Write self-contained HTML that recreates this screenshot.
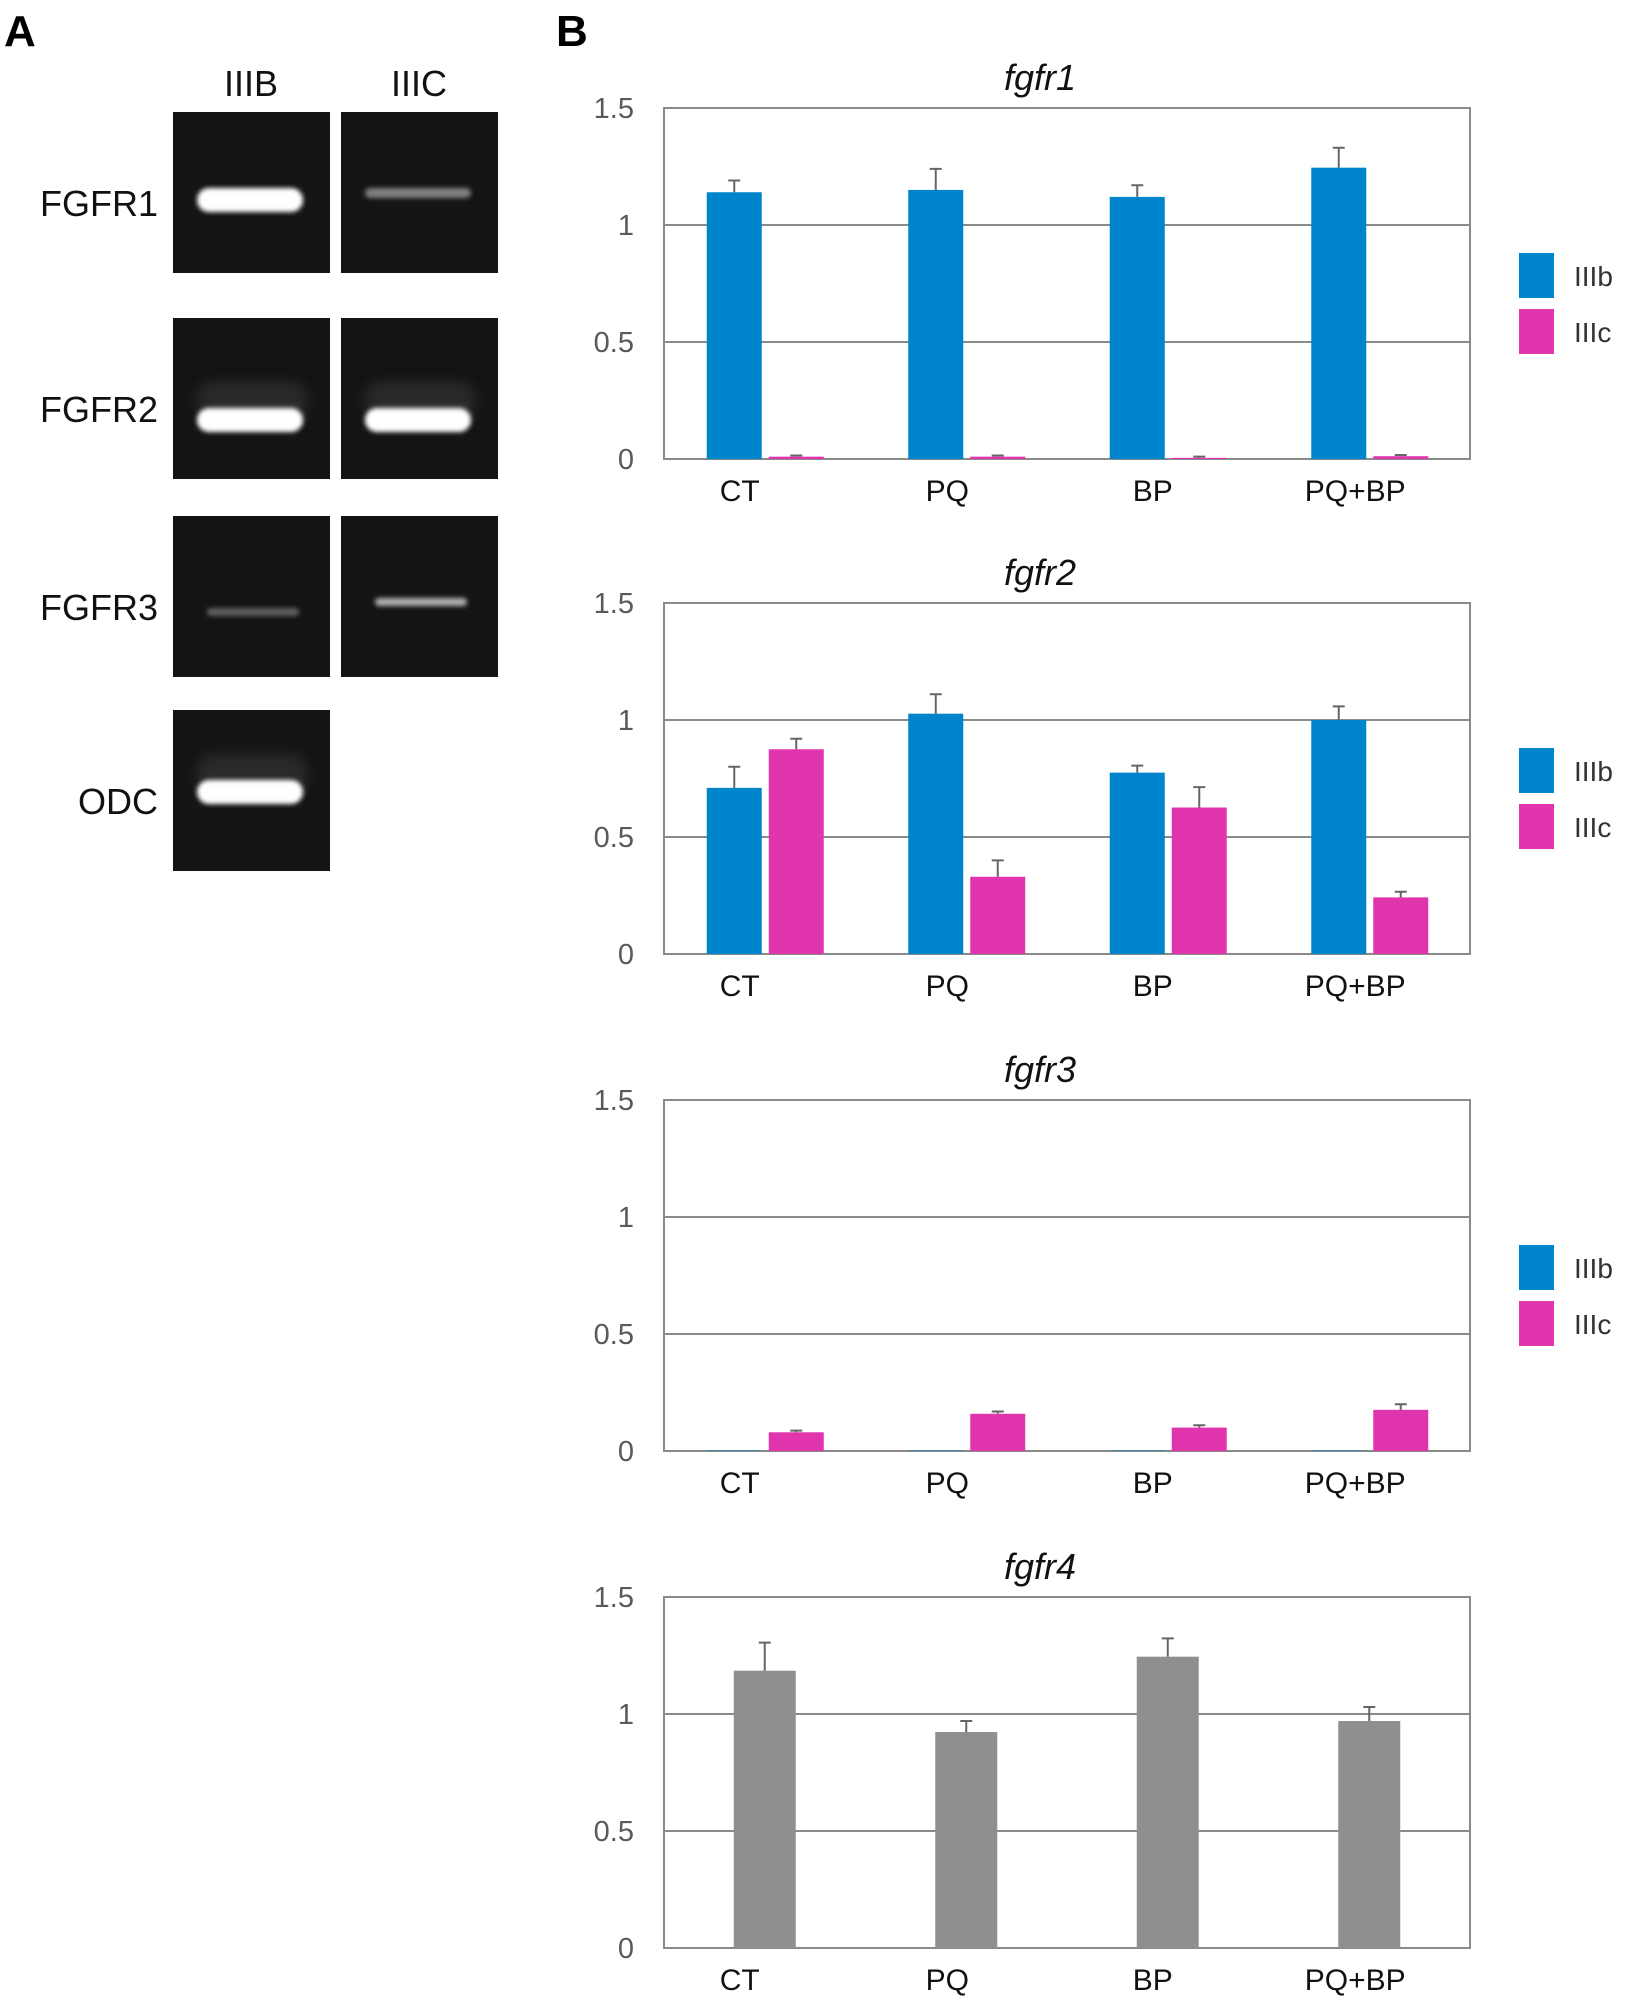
<!DOCTYPE html>
<html><head><meta charset="utf-8"><style>
html,body{margin:0;padding:0;background:#fff}
svg{display:block}
text{font-family:"Liberation Sans",sans-serif}
</style></head><body>
<svg id="fig" width="1640" height="2016" viewBox="0 0 1640 2016" xmlns="http://www.w3.org/2000/svg">
<defs>
<filter id="blur2" x="-20%" y="-100%" width="140%" height="300%"><feGaussianBlur stdDeviation="2.5"/></filter>
<filter id="blur6" x="-30%" y="-200%" width="160%" height="500%"><feGaussianBlur stdDeviation="6"/></filter>
</defs>
<text x="4" y="46" font-size="44" font-weight="bold">A</text>
<text x="556" y="46" font-size="44" font-weight="bold">B</text>
<g id="gel"></g>
<g id="charts"></g>
</svg>
<script>
const NS='http://www.w3.org/2000/svg';
function mk(parent,tag,attrs,txt){const e=document.createElementNS(NS,tag);for(const k in attrs)e.setAttribute(k,attrs[k]);if(txt!==undefined)e.textContent=txt;parent.appendChild(e);return e;}

// ---------- Chart data ----------
const categories=['CT','PQ','BP','PQ+BP'];
const yTicks=[0,0.5,1,1.5];
const yTickLabels=['0','0.5','1','1.5'];
const chartTitles=['fgfr1','fgfr2','fgfr3','fgfr4'];
const fgfr1IIIb=[1.14,1.15,1.12,1.245];
const fgfr1IIIbErr=[0.05,0.09,0.05,0.085];
const fgfr1IIIc=[0.01,0.01,0.005,0.012];
const fgfr1IIIcErr=[0.005,0.005,0.005,0.005];
const fgfr2IIIb=[0.71,1.027,0.775,1.0];
const fgfr2IIIbErr=[0.09,0.083,0.03,0.058];
const fgfr2IIIc=[0.875,0.33,0.626,0.242];
const fgfr2IIIcErr=[0.045,0.07,0.087,0.024];
const fgfr3IIIb=[0.002,0.002,0.002,0.002];
const fgfr3IIIbErr=[0,0,0,0];
const fgfr3IIIc=[0.08,0.159,0.10,0.176];
const fgfr3IIIcErr=[0.007,0.01,0.01,0.024];
const fgfr4Total=[1.185,0.923,1.245,0.97];
const fgfr4TotalErr=[0.12,0.047,0.078,0.06];
const legendLabels=['IIIb','IIIc'];

const BLUE='#0085cc',PINK='#e035ad',GRAY='#8f8f8f',AX='#8a8a8a';
const plotLeft=664,plotRight=1470,plotH=351;
const plotTops=[108,603,1100,1597];
const labelShift=[-25,-19,-15,-14];
const charts=document.getElementById('charts');

function xBand(i){const w=(plotRight-plotLeft)/categories.length;return plotLeft+w*(i+0.5);}

function drawChart(ci,series){
  const top=plotTops[ci],bottom=top+plotH;
  const y=v=>bottom-v/1.5*plotH;
  const g=mk(charts,'g',{});
  
  
  const t=mk(g,'text',{x:1040,y:top-18,'font-size':36,'font-style':'italic','text-anchor':'middle',fill:'#111'},chartTitles[ci]);
  
  
  yTicks.forEach((v,k)=>{
    const ln=mk(g,'line',{x1:plotLeft,x2:plotRight,y1:y(v),y2:y(v),stroke:AX,'stroke-width':2});
    
    
    const lb=mk(g,'text',{x:634,y:y(v)+10,'font-size':29,'text-anchor':'end',fill:'#5a5a5a'},yTickLabels[k]);
    
    
  });
  const fr=mk(g,'rect',{x:plotLeft,y:top,width:plotRight-plotLeft,height:plotH,fill:'none',stroke:AX,'stroke-width':2});
  
  
  categories.forEach((c,i)=>{
    const cx=xBand(i);
    const cl=mk(g,'text',{x:cx+labelShift[i],y:bottom+42,'font-size':30,'text-anchor':'middle',fill:'#111'},c);
    
    
    series.forEach(s=>{
      const v=s.vals[i],e=s.errs[i];
      const x0=cx+s.off, w=s.w;
      const b=mk(g,'rect',{x:x0,y:y(v),width:w,height:bottom-y(v),fill:s.color});
      
      
      if(e>0){
        const m=x0+w/2;
        const el=mk(g,'path',{d:`M${m},${y(v)}V${y(v+e)}M${m-6},${y(v+e)}H${m+6}`,stroke:'#666','stroke-width':2,fill:'none'});
        
        
      }
    });
  });
  if(series.length===2){
    const legY=[[top+145,top+190],[top+201,top+246]];
    series.forEach((s,k)=>{
      const r=mk(g,'rect',{x:1519,y:legY[k][0],width:35,height:45,fill:s.color});
      
      
      const lt=mk(g,'text',{x:1574,y:legY[k][0]+33,'font-size':28,fill:'#333'},legendLabels[k]);
      
      
    });
  }
}
drawChart(0,[{name:'IIIb',vals:fgfr1IIIb,errs:fgfr1IIIbErr,color:BLUE,off:-58,w:55},{name:'IIIc',vals:fgfr1IIIc,errs:fgfr1IIIcErr,color:PINK,off:4,w:55}]);
drawChart(1,[{name:'IIIb',vals:fgfr2IIIb,errs:fgfr2IIIbErr,color:BLUE,off:-58,w:55},{name:'IIIc',vals:fgfr2IIIc,errs:fgfr2IIIcErr,color:PINK,off:4,w:55}]);
drawChart(2,[{name:'IIIb',vals:fgfr3IIIb,errs:fgfr3IIIbErr,color:BLUE,off:-58,w:55},{name:'IIIc',vals:fgfr3IIIc,errs:fgfr3IIIcErr,color:PINK,off:4,w:55}]);
drawChart(3,[{name:'total',vals:fgfr4Total,errs:fgfr4TotalErr,color:GRAY,off:-31,w:62}]);

// ---------- Gel panel ----------
const gel=document.getElementById('gel');
const colLabels=['IIIB','IIIC'];
const colX=[173,341];
const rowLabels=['FGFR1','FGFR2','FGFR3','ODC'];
const rowY=[112,318,516,710];
const bandIntensity=[[1.0,0.35],[1.0,1.0],[0.18,0.6],[1.0,null]];
colLabels.forEach((l,k)=>{
  const t=mk(gel,'text',{x:colX[k]+78,y:96,'font-size':36,'text-anchor':'middle',fill:'#111'},l);
  
  
});
rowLabels.forEach((l,r)=>{
  const t=mk(gel,'text',{x:158,y:rowY[r]+104,'font-size':36,'text-anchor':'end',fill:'#111'},l);
  
  
  colX.forEach((x,k)=>{
    const inten=bandIntensity[r][k];
    if(inten===null)return;
    const lane=mk(gel,'rect',{x:x,y:rowY[r],width:157,height:161,fill:'#141414'});
    
    
    const by=rowY[r]+(r===0?76:r===1?90:r===2?(k===0?92:82):70);
    const bh=r===0&&k===1?10:r===2?8:24;
    const c=Math.round(60+195*inten);
    if(r===1||r===3){
      const gl=mk(gel,'rect',{x:x+24,y:by-26,width:110,height:40,rx:16,fill:'#444',opacity:0.45,filter:'url(#blur6)'});
      
      
    }
    const b=mk(gel,'rect',{x:x+(r===2?34:24),y:by,width:r===2?92:106,height:bh,rx:bh/2,fill:`rgb(${c},${c},${c})`,filter:'url(#blur2)'});
    
    
  });
});
</script>
</body></html>
